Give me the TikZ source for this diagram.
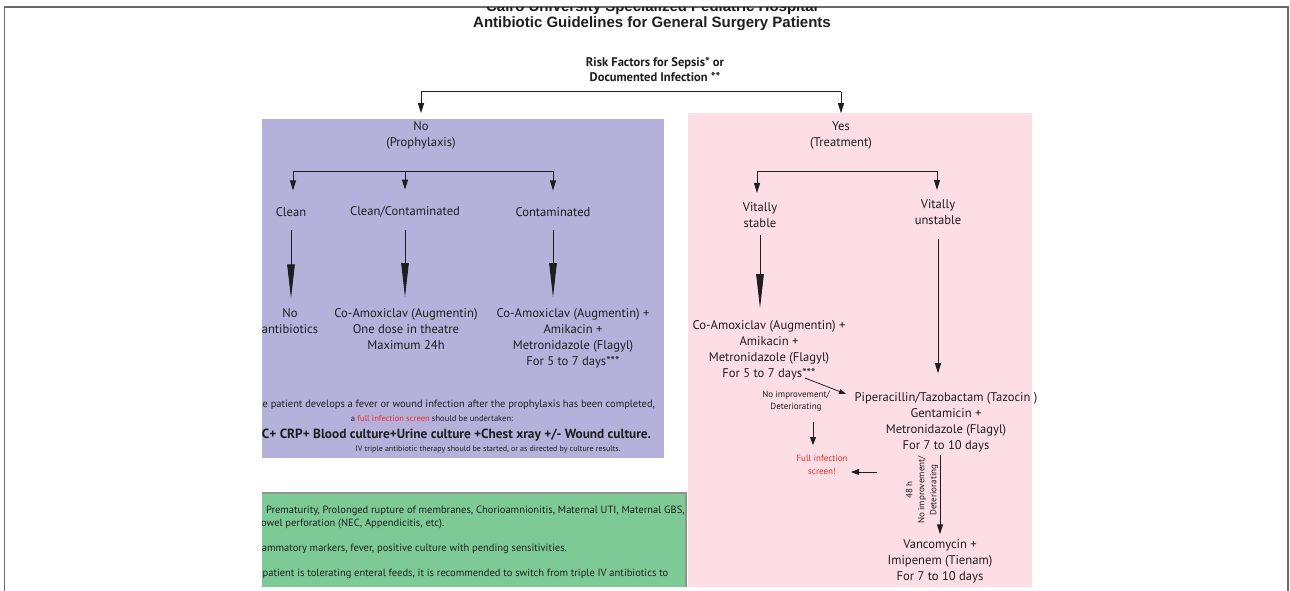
\documentclass[tikz,border=0pt]{standalone}
\usepackage{fontspec}
\setmainfont{PT Sans}
\newfontfamily\titlefont{Liberation Sans}
\usetikzlibrary{arrows.meta}
\definecolor{purplebox}{RGB}{181,177,218}
\definecolor{pinkbox}{RGB}{253,222,228}
\definecolor{greenbox}{RGB}{125,202,151}
\definecolor{greenedge}{RGB}{140,150,140}
\definecolor{framegray}{RGB}{105,105,105}
\definecolor{redtxt}{RGB}{238,45,45}
\definecolor{ink}{RGB}{30,30,30}
\begin{document}
\begin{tikzpicture}[x=1pt,y=-1pt,
  every node/.style={inner sep=0pt,outer sep=0pt,text=ink},
  txt/.style={align=center,font=\fontsize{12.6}{16}\selectfont},
  smalltxt/.style={align=center,font=\fontsize{9}{12}\selectfont},
  bar/.style={draw=ink,line width=1pt},
  arr/.style={draw=ink,line width=1pt,-{Triangle[length=10pt,width=6pt]}},
  arrs/.style={draw=ink,line width=0.8pt,-{Triangle[length=8pt,width=6pt]}},
  bigarr/.style={draw=ink,line width=0.9pt,-{Triangle[length=34pt,width=7.5pt]}},
  note/.style={anchor=west,font=\fontsize{10.5}{12}\selectfont},
  ttl/.style={anchor=base,font=\titlefont\bfseries\fontsize{15}{18}\selectfont},
]
\useasboundingbox (0,0) rectangle (1290,591);
\fill[white] (0,0) rectangle (1290,591);
\fill[purplebox] (262,119) rectangle (664,458);
\fill[pinkbox] (688,113) rectangle (1032,587);
\fill[greenbox] (262,493) rectangle (686,587);
\draw[greenedge,line width=1.6pt] (262,493) -- (686,493) -- (686,587);
\draw[framegray,line width=1.3pt] (4.5,591) -- (4.5,7) -- (1288,7) -- (1288,591);

% titles
\begin{scope}
\clip (0,8) rectangle (1290,40);
\node[ttl] (hosp) at (652,12) {Cairo University Specialized Pediatric Hospital};
\end{scope}
\node[ttl] (title) at (652,28) {Antibiotic Guidelines for General Surgery Patients};
\node[align=center,font=\bfseries\fontsize{12.5}{15}\selectfont] (risk) at (655,69.5) {Risk Factors for Sepsis* or\\Documented Infection **};

% first split
\coordinate (b1L) at (421,92);
\coordinate (b1R) at (841,92);
\node[txt] (no) at (421,135) {No\\(Prophylaxis)};
\node[txt] (yes) at (841,135) {Yes\\(Treatment)};
\draw[bar] (b1L) -- (b1R);
\draw[arr,shorten >=8pt] (b1L) -- (no);
\draw[arr,shorten >=8pt] (b1R) -- (yes);

% prophylaxis side
\begin{scope}
\clip (262,0) rectangle (1290,591);
\coordinate (b2L) at (293,171);
\coordinate (b2M) at (405,171);
\coordinate (b2R) at (553,171);
\node[txt] (clean) at (291,212) {Clean};
\node[txt] (cc) at (405,212) {Clean/Contaminated};
\node[txt] (cont) at (553,212) {Contaminated};
\draw[bar] (b2L) -- (b2R);
\draw[arr,shorten >=17pt] (b2L) -- (b2L |- clean.north);
\draw[arr,shorten >=17pt] (b2M) -- (b2M |- cc.north);
\draw[arr,shorten >=17pt] (b2R) -- (b2R |- cont.north);

\node[txt] (noab) at (290,321) {No\\antibiotics};
\node[txt] (coa1) at (406,328.6) {Co-Amoxiclav (Augmentin)\\One dose in theatre\\Maximum 24h};
\node[txt] (coa2) at (573,338) {Co-Amoxiclav (Augmentin) +\\Amikacin +\\Metronidazole (Flagyl)\\For 5 to 7 days***};
\draw[bigarr,shorten <=13pt,shorten >=10pt] (clean.south) -- (clean.south |- noab.north);
\draw[bigarr,shorten <=13pt,shorten >=11pt] (cc.south) -- (cc.south |- coa1.north);
\draw[bigarr,shorten <=13pt,shorten >=11pt] (cont.south) -- (cont.south |- coa2.north);

\node[anchor=east,font=\fontsize{10.45}{12}\selectfont] (p1) at (655,405) {If the patient develops a fever or wound infection after the prophylaxis has been completed,};
\node[font=\fontsize{8.5}{10}\selectfont] (p2) at (432,419) {a \textcolor{redtxt}{full infection screen} should be undertaken:};
\node[anchor=east,font=\bfseries\fontsize{13.3}{15}\selectfont] (p3) at (651,435) {FBC+ CRP+ Blood culture+Urine culture +Chest xray +/- Wound culture.};
\node[font=\fontsize{8}{9}\selectfont] (p4) at (488,449) {IV triple antibiotic therapy should be started, or as directed by culture results.};

% notes box
\node[note] (g1) at (266,511) {Prematurity, Prolonged rupture of membranes, Chorioamnionitis, Maternal UTI, Maternal GBS,};
\node[note] (g2) at (255,524) {Bowel perforation (NEC, Appendicitis, etc).};
\node[note] (g3) at (247,549) {Inflammatory markers, fever, positive culture with pending sensitivities.};
\node[note] (g4) at (236,574) {If the patient is tolerating enteral feeds, it is recommended to switch from triple IV antibiotics to};
\end{scope}

% treatment side
\coordinate (b3L) at (757,171);
\coordinate (b3R) at (937,171);
\node[txt] (vs) at (760,215.5) {Vitally\\stable};
\node[txt] (vu) at (938,212.5) {Vitally\\unstable};
\draw[bar] (b3L) -- (b3R);
\draw[arr,shorten >=10pt] (b3L) -- (b3L |- vs.north);
\draw[arr,shorten >=10pt] (b3R) -- (b3R |- vu.north);
\node[txt] (coa3) at (769,350) {Co-Amoxiclav (Augmentin) +\\Amikacin +\\Metronidazole (Flagyl)\\For 5 to 7 days***};
\draw[bigarr,shorten <=7pt,shorten >=12pt] (vs.south) -- (vs.south |- coa3.north);
\node[txt] (pip) at (946,422) {Piperacillin/Tazobactam (Tazocin )\\Gentamicin +\\Metronidazole (Flagyl)\\For 7 to 10 days};
\draw[arr,shorten <=14pt,shorten >=19pt] (vu.south) -- (vu.south |- pip.north);
\node[txt] (vanc) at (940,561) {Vancomycin +\\Imipenem (Tienam)\\For 7 to 10 days};
\draw[arr,shorten <=3pt,shorten >=5pt] (vanc.north |- pip.south) -- (vanc.north);

\node[smalltxt] (noimp) at (796,401.5) {No improvement/\\Deteriorating};
\node[smalltxt,text=redtxt,font=\fontsize{9}{13.5}\selectfont] (fis) at (822,465) {Full infection\\screen!};
\node[smalltxt,rotate=90] (rot) at (922,490) {48 h\\No improvement/\\Deteriorating};

\coordinate (d1) at (805,378);
\coordinate (d2) at (846,394);
\draw[arrs,-{Triangle[length=7pt,width=5pt]}] (d1) -- (d2);
\coordinate (e1) at (813,422);
\coordinate (e2) at (813,445);
\draw[arrs] (e1) -- (e2);
\coordinate (f1) at (877,472);
\coordinate (f2) at (851,472);
\draw[arrs] (f1) -- (f2);
\end{tikzpicture}
\end{document}
